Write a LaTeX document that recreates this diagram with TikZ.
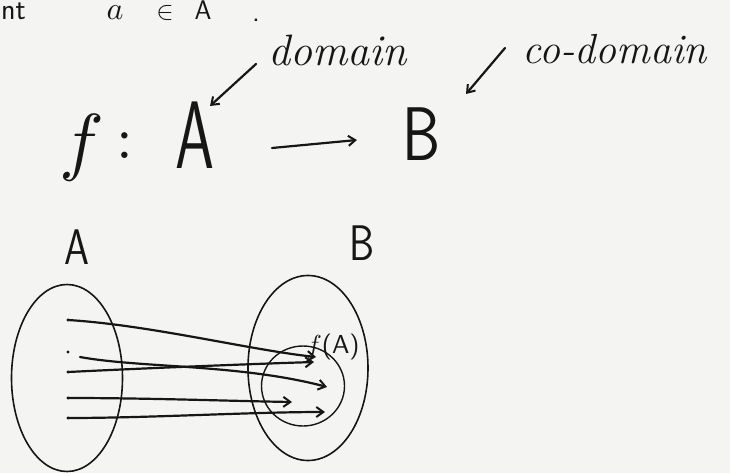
\documentclass[tikz,border=0pt]{standalone}
\usetikzlibrary{shapes.geometric,arrows.meta}
\definecolor{paper}{RGB}{244,244,242}
\definecolor{ink}{RGB}{22,22,22}
\tikzset{
  pen/.style={draw=ink, line width=2.2pt, line cap=round},
  hand/.style={text=ink, inner sep=0pt},
  tip/.style={-{Straight Barb[length=7pt,width=10pt,line width=2pt]}},
  setring/.style={ellipse, draw=ink, line width=1.6pt, inner sep=0pt},
  elem/.style={circle, fill=ink, inner sep=0pt, minimum size=3.4pt},
}
\begin{document}
\begin{tikzpicture}[x=1pt,y=-1pt]
\fill[paper] (0,0) rectangle (730,473);
\useasboundingbox (0,0) rectangle (730,473);
% top line
\node[hand, anchor=base west, font=\sffamily\fontsize{30}{30}\selectfont] (topnt) at (1,20) {nt};
\node[hand, anchor=base, scale=3.2] (topa) at (115,20) {$a$};
\node[hand, anchor=base, scale=2.6] (topin) at (165,20) {$\in$};
\node[hand, anchor=base, font=\sffamily\fontsize{27}{27}\selectfont] (topA) at (203,20) {A};
\node[hand, anchor=base, font=\sffamily\fontsize{30}{30}\selectfont] (topdot) at (256,22) {.};
% labels
\node[hand, anchor=base west, font=\itshape\fontsize{44}{44}\selectfont] (dom) at (268,66) {domain};
\node[hand, anchor=base west, font=\itshape\fontsize{42}{42}\selectfont] (codom) at (522,64) {co-domain};
\coordinate (domS) at (256,64);
\coordinate (domE) at (210,106);
\coordinate (codS) at (505,48);
\coordinate (codE) at (466,94);
\draw[pen, tip] (domS) -- (domE);
\draw[pen, tip] (codS) -- (codE);
% f : A -> B
\node[hand, scale=7.5] (fsym) at (82,148) {$f$};
\node[hand, scale=6] (colon) at (125,146) {$:$};
\node[hand, xscale=0.65, font=\sffamily\fontsize{96}{96}\selectfont] (bigA) at (195,135) {A};
\node[hand, xscale=0.8, font=\sffamily\fontsize{76}{76}\selectfont] (bigB) at (422,134) {B};
\coordinate (mapS) at (272,148);
\coordinate (mapE) at (357,140);
\draw[pen, tip] (mapS) -- (mapE);
% set labels
\node[hand, xscale=0.8, font=\sffamily\fontsize{50}{50}\selectfont] (labA) at (77,247) {A};
\node[hand, xscale=0.8, font=\sffamily\fontsize{50}{50}\selectfont] (labB) at (362,243) {B};
% sets
\node[setring, minimum width=111pt, minimum height=187pt] (setA) at (67,378) {};
\node[setring, minimum width=120pt, minimum height=185pt] (setB) at (308,368) {};
\node[setring, line width=1.4pt, minimum width=83pt, minimum height=80pt] (img) at (303,386) {};
\node[hand, scale=2.6] (imgL) at (333,347) {$f$\textsf{(A)}};
% elements
\node[elem] (a1) at (68,320) {};
\node[elem] (a2) at (68,352) {};
\node[elem] (a3) at (68,372) {};
\node[elem] (a4) at (68,398) {};
\node[elem] (a5) at (68,418) {};
\coordinate (s2) at (80,357);
\coordinate (e1) at (316,357);
\coordinate (e2) at (327,387);
\coordinate (e3) at (314,362);
\coordinate (e4) at (292,402);
\coordinate (e5) at (325,412);
\draw[pen, tip] (a1.center) .. controls (150,325) and (250,350) .. (e1);
\draw[pen, tip] (s2) .. controls (140,368) and (240,364) .. (e2);
\draw[pen, tip] (a3.center) .. controls (150,368) and (250,364) .. (e3);
\draw[pen, tip] (a4.center) .. controls (150,398) and (230,401) .. (e4);
\draw[pen, tip] (a5.center) .. controls (150,418) and (250,412) .. (e5);
\end{tikzpicture}
\end{document}
